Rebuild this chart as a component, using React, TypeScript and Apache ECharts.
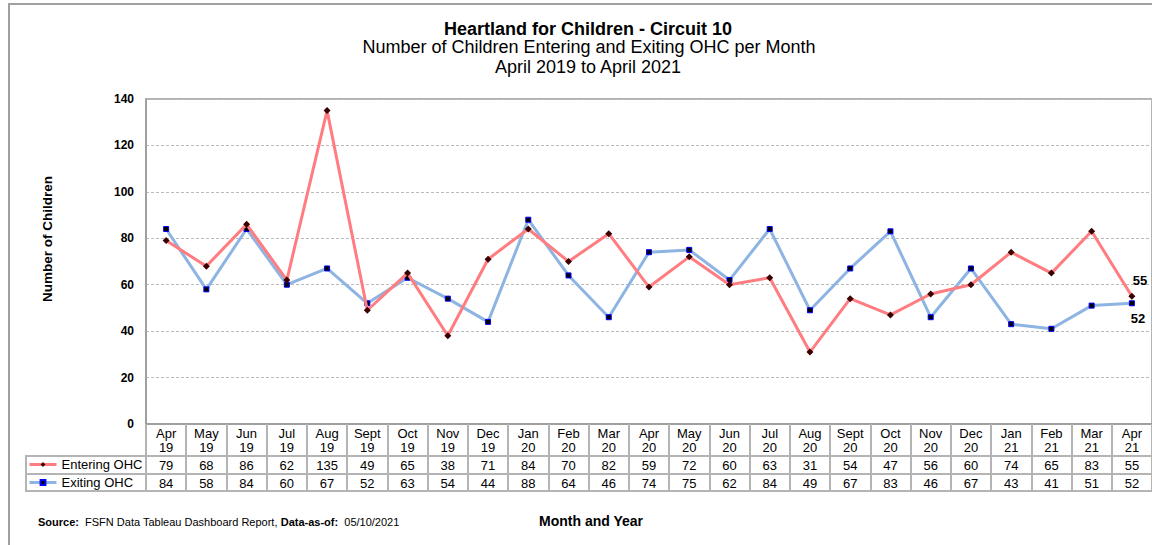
import React, { useEffect, useRef } from "react";
import * as echarts from "echarts";

const categories = [
  "Apr\n19", "May\n19", "Jun\n19", "Jul\n19", "Aug\n19", "Sept\n19", "Oct\n19", "Nov\n19", "Dec\n19",
  "Jan\n20", "Feb\n20", "Mar\n20", "Apr\n20", "May\n20", "Jun\n20", "Jul\n20", "Aug\n20", "Sept\n20",
  "Oct\n20", "Nov\n20", "Dec\n20", "Jan\n21", "Feb\n21", "Mar\n21", "Apr\n21",
];
const entering = [79, 68, 86, 62, 135, 49, 65, 38, 71, 84, 70, 82, 59, 72, 60, 63, 31, 54, 47, 56, 60, 74, 65, 83, 55];
const exiting = [84, 58, 84, 60, 67, 52, 63, 54, 44, 88, 64, 46, 74, 75, 62, 84, 49, 67, 83, 46, 67, 43, 41, 51, 52];
const yTicks = { min: 0, max: 140, interval: 20 };

const FONT = "Liberation Sans, Arial, sans-serif";
const TABLE_LINE = "#b4b4b4";

export default function App() {
  const ref = useRef<HTMLDivElement>(null);
  useEffect(() => {
    if (!ref.current) return;
    const chart = echarts.init(ref.current, undefined, { renderer: "svg" });
    const last = entering.length - 1;
    const lastLabel = (dx: number, dy: number) => ({
      show: true,
      position: "inside",
      offset: [dx, dy],
      fontFamily: FONT,
      fontWeight: "bold",
      fontSize: 13,
      color: "#000",
      formatter: "{c}",
    });
    const tableAxis = (offset: number, values: number[] | null) => ({
      type: "category",
      data: categories,
      position: "bottom",
      offset,
      boundaryGap: true,
      axisLine: { show: true, lineStyle: { color: TABLE_LINE, width: 2 } },
      axisTick: { show: false },
      splitLine: { show: false },
      axisLabel: values
        ? {
            show: true,
            interval: 0,
            margin: 3,
            fontFamily: FONT,
            fontSize: 13,
            color: "#000",
            formatter: (_v: string, i: number) => String(values[i]),
          }
        : { show: false },
    });
    chart.setOption({
      animation: false,
      textStyle: { fontFamily: FONT },
      grid: {
        left: 146,
        right: -1,
        top: 99,
        bottom: 121,
        show: true,
        borderColor: "#999",
        borderWidth: 1.5,
      },
      legend: {
        orient: "vertical",
        left: 28,
        top: 457,
        padding: 0,
        itemWidth: 27,
        itemHeight: 6,
        itemGap: 3,
        lineStyle: { width: 3 },
        textStyle: { fontFamily: FONT, fontSize: 13, color: "#000", lineHeight: 15 },
        data: ["Entering OHC", "Exiting OHC"],
      },
      xAxis: [
        {
          type: "category",
          data: categories,
          position: "bottom",
          boundaryGap: true,
          axisLine: { show: true, lineStyle: { color: "#999", width: 1.5 } },
          axisTick: { show: true, interval: 0, length: 67, lineStyle: { color: TABLE_LINE, width: 2 } },
          axisLabel: {
            interval: 0,
            margin: 2,
            fontFamily: FONT,
            fontSize: 13,
            lineHeight: 14,
            color: "#000",
          },
        },
        tableAxis(32, entering),
        tableAxis(50, exiting),
        tableAxis(67, null),
      ],
      yAxis: {
        type: "value",
        min: yTicks.min,
        max: yTicks.max,
        interval: yTicks.interval,
        axisLine: { show: true, lineStyle: { color: "#999", width: 1.5 } },
        axisTick: { show: false },
        axisLabel: { fontFamily: FONT, fontWeight: "bold", fontSize: 12, color: "#000", margin: 12 },
        splitLine: { show: true, lineStyle: { color: "#bbb", type: [3, 2], width: 1 } },
      },
      series: [
        {
          name: "Entering OHC",
          type: "line",
          xAxisIndex: 0,
          data: entering.map((v, i) => (i === last ? { value: v, label: lastLabel(8, -16) } : v)),
          lineStyle: { color: "#ff7c80", width: 3 },
          itemStyle: { color: "#3a0000" },
          symbol: "diamond",
          symbolSize: 7,
          z: 3,
        },
        {
          name: "Exiting OHC",
          type: "line",
          xAxisIndex: 0,
          data: exiting.map((v, i) => (i === last ? { value: v, label: lastLabel(6, 15) } : v)),
          lineStyle: { color: "#8db4e2", width: 3 },
          itemStyle: { color: "#000", borderColor: "#0000ff", borderWidth: 1 },
          symbol: "rect",
          symbolSize: 5,
          z: 2,
        },
      ],
      graphic: [
        {
          type: "rect",
          shape: { x: 9, y: 4, width: 1200, height: 600 },
          style: { fill: "none", stroke: "#a0a0a0", lineWidth: 2 },
          silent: true,
        },
        {
          type: "rect",
          shape: { x: 26, y: 456, width: 120, height: 35 },
          style: { fill: "none", stroke: TABLE_LINE, lineWidth: 2 },
          silent: true,
        },
        {
          type: "line",
          shape: { x1: 26, y1: 474, x2: 146, y2: 474 },
          style: { stroke: TABLE_LINE, lineWidth: 2 },
          silent: true,
        },
        {
          type: "text",
          x: 588,
          y: 20,
          style: {
            text: "Heartland for Children - Circuit 10",
            font: "bold 18px " + FONT,
            fill: "#000",
            textAlign: "center",
          },
        },
        {
          type: "text",
          x: 589,
          y: 38,
          style: {
            text: "Number of Children Entering and Exiting OHC per Month",
            font: "18px " + FONT,
            fill: "#000",
            textAlign: "center",
          },
        },
        {
          type: "text",
          x: 588,
          y: 58,
          style: {
            text: "April 2019 to April 2021",
            font: "18px " + FONT,
            fill: "#000",
            textAlign: "center",
          },
        },
        {
          type: "text",
          x: 47,
          y: 239,
          rotation: Math.PI / 2,
          style: {
            text: "Number of Children",
            font: "bold 13.5px " + FONT,
            fill: "#000",
            textAlign: "center",
            textVerticalAlign: "middle",
          },
        },
        {
          type: "text",
          x: 38,
          y: 516,
          style: {
            text: "{b|Source:}  FSFN Data Tableau Dashboard Report, {b|Data-as-of:}  05/10/2021",
            font: "11px " + FONT,
            fill: "#000",
            rich: { b: { fontWeight: "bold", fontSize: 11, fontFamily: FONT } },
          },
        },
        {
          type: "text",
          x: 591,
          y: 514,
          style: {
            text: "Month and Year",
            font: "bold 14px " + FONT,
            fill: "#000",
            textAlign: "center",
          },
        },
      ],
    });
    return () => chart.dispose();
  }, []);
  return (
    <div
      ref={ref}
      style={{ position: "fixed", left: 0, top: 0, width: 1152, height: 545, background: "#fff" }}
    />
  );
}
